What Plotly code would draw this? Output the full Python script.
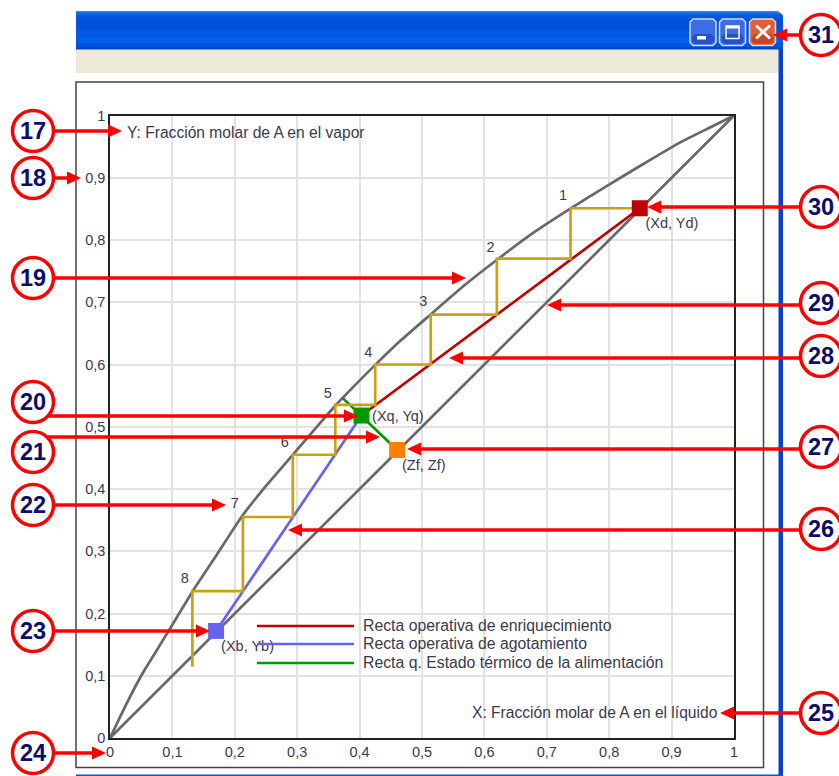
import plotly.graph_objects as go

W, H = 839, 776

# ---------- data ----------
tick_values = [0, 0.1, 0.2, 0.3, 0.4, 0.5, 0.6, 0.7, 0.8, 0.9, 1]
tick_labels = ["0", "0,1", "0,2", "0,3", "0,4", "0,5", "0,6", "0,7", "0,8", "0,9", "1"]

equilibrium_x = [0, 0.025, 0.05, 0.075, 0.1, 0.132, 0.165, 0.211, 0.25, 0.2938, 0.33, 0.3606, 0.4247,
                 0.4675, 0.5128, 0.569, 0.6197, 0.681, 0.7383, 0.7933, 0.852, 0.916, 0.964, 1]
equilibrium_y = [0, 0.052, 0.1, 0.141, 0.182, 0.235, 0.285, 0.3555, 0.405, 0.456, 0.498, 0.5333, 0.599,
                 0.64, 0.6795, 0.728, 0.7679, 0.8133, 0.8508, 0.885, 0.9205, 0.958, 0.982, 1]
diagonal_x = [0, 1]
diagonal_y = [0, 1]

steps_x = [0.849, 0.738, 0.738, 0.62, 0.62, 0.514, 0.514, 0.425, 0.425, 0.361, 0.361, 0.293, 0.293, 0.213, 0.213, 0.132, 0.132]
steps_y = [0.851, 0.851, 0.77, 0.77, 0.68, 0.68, 0.6, 0.6, 0.535, 0.535, 0.455, 0.455, 0.355, 0.355, 0.236, 0.236, 0.1145]

enrich_x = [0.849, 0.403]
enrich_y = [0.851, 0.518]
strip_x = [0.403, 0.17]
strip_y = [0.518, 0.172]
qline_x = [0.46, 0.373]
qline_y = [0.4627, 0.546]

point_x = [0.849, 0.403, 0.46, 0.17]
point_y = [0.851, 0.518, 0.4627, 0.172]
point_colors = ["#C00000", "#009900", "#FF8000", "#6464F0"]

point_label_x = [0.858, 0.42, 0.468, 0.178]
point_label_y = [0.825, 0.515, 0.437, 0.145]
point_labels = ["(Xd, Yd)", "(Xq, Yq)", "(Zf, Zf)", "(Xb, Yb)"]

step_label_x = [0.726, 0.61, 0.502, 0.414, 0.349, 0.28, 0.2, 0.12]
step_label_y = [0.87, 0.787, 0.699, 0.618, 0.552, 0.473, 0.375, 0.255]
step_labels = ["1", "2", "3", "4", "5", "6", "7", "8"]

legend_names = ["Recta operativa de enriquecimiento", "Recta operativa de agotamiento",
                "Recta q. Estado térmico de la alimentación"]
legend_colors = ["#C00000", "#6464F0", "#009900"]

y_axis_title = "Y: Fracción molar de A en el vapor"
x_axis_title = "X: Fracción molar de A en el líquido"

callout_numbers = [17, 18, 19, 20, 21, 22, 23, 24, 25, 26, 27, 28, 29, 30, 31]

# ---------- page geometry (pixels) ----------
PLOT_L, PLOT_R, PLOT_T, PLOT_B = 110, 734, 115.5, 738


def fx(x):
    return x / W


def fy(y):
    return 1 - y / H


callout_geometry = {
    17: (33, 131, 50, 131, 122, 131), 18: (33, 178, 50, 178, 81, 178),
    19: (33, 278, 50, 278, 466, 278), 20: (33, 402, 48, 416, 358, 416),
    21: (33, 452, 48, 437, 380, 437), 22: (33, 505, 50, 505, 226, 505),
    23: (33, 631, 50, 631, 210, 631), 24: (33, 753, 50, 753, 106, 753),
    25: (821, 713, 804, 713, 720, 713), 26: (821, 529, 804, 530, 288, 530),
    27: (821, 447, 804, 449, 407, 449), 28: (821, 356, 804, 358, 449, 358),
    29: (821, 303, 804, 305, 547, 305), 30: (821, 207, 804, 207, 647, 207),
    31: (821, 35, 804, 35, 773, 35),
}

shapes = []


def rect(x0, y0, x1, y1, fill, line=None, lw=0):
    shapes.append(dict(type="rect", xref="paper", yref="paper", x0=fx(x0), x1=fx(x1), y0=fy(y0), y1=fy(y1),
                       fillcolor=fill, line=dict(color=line or "rgba(0,0,0,0)", width=lw), layer="below"))


def poly(points, fill=None, line=None, lw=0, layer="above", close=True):
    d = "M" + " L".join(f"{fx(a):.5f},{fy(b):.5f}" for a, b in points) + (" Z" if close else "")
    shapes.append(dict(type="path", xref="paper", yref="paper", path=d, fillcolor=fill or "rgba(0,0,0,0)",
                       line=dict(color=line or "rgba(0,0,0,0)", width=lw), layer=layer))


def rounded(x0, y0, x1, y1, r=3):
    return [(x0 + r, y0), (x1 - r, y0), (x1, y0 + r), (x1, y1 - r), (x1 - r, y1), (x0 + r, y1), (x0, y1 - r), (x0, y0 + r)]


# title bar gradient: bands overlap downward so no seams appear
title_bands = [(11, "#2C86F0"), (12.5, "#1068E8"), (15, "#0058DE"), (19, "#0050D8"),
               (30, "#0058E4"), (37, "#0060EE"), (43, "#0054DC"), (47, "#0044C4")]
for y0, c in title_bands:
    rect(76, y0, 783, 49.5, c)
rect(76, 49.5, 778.5, 73, "#ECE9D8")
rect(778.5, 49.5, 783, 776, "#0A40D0")
rect(76, 774.5, 783, 776, "#1450D8")
rect(76, 82, 763.5, 767.5, "white", "#444444", 1.5)
poly([(776, 10), (784, 10), (784, 18), (782, 14), (779, 12)], fill="white", layer="below")

# window buttons
for x0, x1, c, c2 in [(690, 716, "#3C6CE8", "#2450C8"), (719.5, 745.5, "#3C6CE8", "#2450C8"), (749.5, 775.5, "#E0603C", "#C84424")]:
    poly(rounded(x0, 19, x1, 45.5), fill=c, line="#D0DCF8", lw=1.5, layer="below")
    poly(rounded(x0 + 2, 34, x1 - 2, 44), fill=c2, layer="below")
rect(697, 36, 706, 39.5, "white")
rect(726, 26, 739, 38.5, "rgba(0,0,0,0)", "white", 1.5)
rect(726, 26, 739, 28.5, "white")
poly([(756, 25.5), (770, 38.5)], line="white", lw=3, layer="below", close=False)
poly([(770, 25.5), (756, 38.5)], line="white", lw=3, layer="below", close=False)

# ---------- legend ----------
annotations = []
TXT = "#3A3A4C"
LW = 2.7
for name, color, ly in zip(legend_names, legend_colors, [626, 644, 663]):
    shapes.append(dict(type="line", xref="paper", yref="paper", x0=fx(257), x1=fx(354), y0=fy(ly), y1=fy(ly),
                       line=dict(color=color, width=LW), layer="above"))
    annotations.append(dict(x=fx(361), y=fy(ly - 1), xref="paper", yref="paper", text=name, showarrow=False, xanchor="left",
                            yanchor="middle", font=dict(family="Liberation Sans", size=15.8, color=TXT)))

# ---------- callouts ----------
RED = "#FF0000"
HEAD = 14
for n in callout_numbers:
    cx, cy, x0, y0, tx, ty = callout_geometry[n]
    sgn = 1 if tx > x0 else -1
    bx = tx - sgn * HEAD
    shapes.append(dict(type="line", xref="paper", yref="paper", x0=fx(x0), y0=fy(y0), x1=fx(bx), y1=fy(ty),
                       line=dict(color=RED, width=3.5), layer="above"))
    poly([(tx, ty), (bx, ty - 6.5), (bx, ty + 6.5)], fill=RED)
    shapes.append(dict(type="circle", xref="paper", yref="paper", x0=fx(cx - 20.5), x1=fx(cx + 20.5), y0=fy(cy + 20.5), y1=fy(cy - 20.5),
                       fillcolor="white", line=dict(color=RED, width=3.5), layer="above"))
    annotations.append(dict(x=fx(cx), y=fy(cy), xref="paper", yref="paper", text=f"<b>{n}</b>", showarrow=False,
                            font=dict(family="Liberation Sans", size=23.5, color="#0C0C6C"), xanchor="center", yanchor="middle"))

annotations.append(dict(x=fx(125), y=fy(132), xref="paper", yref="paper", text=y_axis_title, showarrow=False, xanchor="left",
                        yanchor="middle", font=dict(family="Liberation Sans", size=15.6, color=TXT)))
annotations.append(dict(x=fx(720), y=fy(712), xref="paper", yref="paper", text=x_axis_title, showarrow=False, xanchor="right",
                        yanchor="middle", font=dict(family="Liberation Sans", size=15.6, color=TXT)))

# ---------- traces ----------
fig = go.Figure()
GRAY = "#686868"
fig.add_trace(go.Scatter(x=diagonal_x, y=diagonal_y, mode="lines", line=dict(color=GRAY, width=LW), showlegend=False))
fig.add_trace(go.Scatter(x=equilibrium_x, y=equilibrium_y, mode="lines", line=dict(color=GRAY, width=LW, shape="spline", smoothing=0.5), showlegend=False))
fig.add_trace(go.Scatter(x=enrich_x, y=enrich_y, mode="lines", name=legend_names[0], line=dict(color=legend_colors[0], width=LW), showlegend=False))
fig.add_trace(go.Scatter(x=strip_x, y=strip_y, mode="lines", name=legend_names[1], line=dict(color=legend_colors[1], width=LW), showlegend=False))
fig.add_trace(go.Scatter(x=qline_x, y=qline_y, mode="lines", name=legend_names[2], line=dict(color=legend_colors[2], width=LW), showlegend=False))
fig.add_trace(go.Scatter(x=steps_x, y=steps_y, mode="lines", line=dict(color="#C8A210", width=LW), showlegend=False))
fig.add_trace(go.Scatter(x=point_x, y=point_y, mode="markers", showlegend=False,
                         marker=dict(symbol="square", size=16, color=point_colors, line=dict(width=0))))
fig.add_trace(go.Scatter(x=point_label_x, y=point_label_y, mode="text", text=point_labels, textposition="middle right",
                         textfont=dict(family="Liberation Sans", size=14.5, color=TXT), showlegend=False))
fig.add_trace(go.Scatter(x=step_label_x, y=step_label_y, mode="text", text=step_labels, textposition="middle center",
                         textfont=dict(family="Liberation Sans", size=14.5, color=TXT), showlegend=False))

axis = dict(range=[0, 1], tickmode="array", tickvals=tick_values, ticktext=tick_labels, showgrid=True, gridcolor="#E2E2E2", gridwidth=1.5,
            zeroline=False, showline=True, mirror=True, linecolor="#222222", linewidth=1.5, ticks="",
            tickfont=dict(family="Liberation Sans", size=14.5, color=TXT))

fig.update_layout(
    width=W, height=H, margin=dict(l=0, r=0, t=0, b=0, autoexpand=False), paper_bgcolor="white", plot_bgcolor="rgba(0,0,0,0)",
    xaxis=dict(axis, domain=[fx(PLOT_L), fx(PLOT_R)], automargin=False),
    yaxis=dict(axis, domain=[fy(PLOT_B), fy(PLOT_T)], automargin=False),
    shapes=shapes, annotations=annotations, showlegend=False,
)

fig.write_html("out.html", post_script="document.body.style.margin='0';document.body.style.overflow='hidden';",
               config=dict(displayModeBar=False))
